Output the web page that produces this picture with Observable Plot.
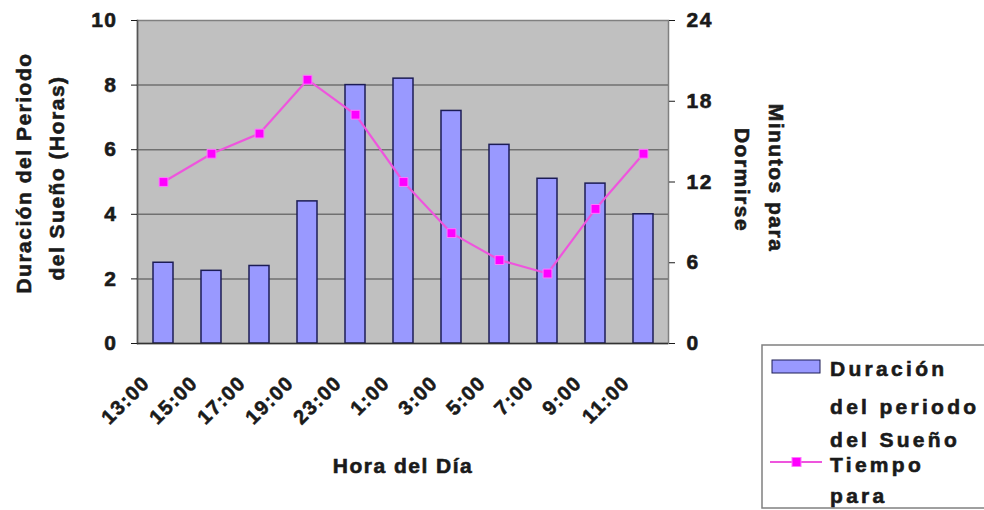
<!DOCTYPE html>
<html><head><meta charset="utf-8">
<script src="https://cdn.jsdelivr.net/npm/d3@7"></script>
<script src="https://cdn.jsdelivr.net/npm/@observablehq/plot@0.6"></script>
<style>
body{margin:0;background:#fff;}
#chart{position:relative;width:984px;height:510px;}
</style></head><body><div id="chart"></div>
<script>
const hours = ["13:00","15:00","17:00","19:00","23:00","1:00","3:00","5:00","7:00","9:00","11:00"];
const duracion = [2.5, 2.25, 2.4, 4.4, 8.0, 8.2, 7.2, 6.15, 5.1, 4.95, 4.0];
const minutos = [12, 14.1, 15.6, 19.6, 17, 12, 8.2, 6.2, 5.2, 10, 14.1];
const leftTicks = [0, 2, 4, 6, 8, 10];
const rightTicks = [0, 6, 12, 18, 24];
const gridValues = [2, 4, 6, 8];
const leftTitle = ["Duración del Periodo", "del Sueño (Horas)"];
const rightTitle = ["Minutos para", "Dormirse"];
const xTitle = "Hora del Día";
const legendLabels = ["Duración", "del periodo", "del Sueño", "Tiempo", "para"];

const data = hours.map((h, i) => ({hour: h, dur: duracion[i], min: minutos[i]}));
const k = 10 / 24;
const FONT = '"Liberation Sans", Arial, Helvetica, sans-serif';
const INK = "#1a1a1a";
const BAR = "#9999ff", BAR_STROKE = "#1c1c55", LINE = "#ee55dd", DOT = "#ff00ff";

const svg = Plot.plot({
  width: 984, height: 510,
  marginLeft: 137, marginRight: 316, marginTop: 20, marginBottom: 167,
  style: {fontFamily: FONT, fontSize: "20px", background: "#fff", color: INK, overflow: "hidden"},
  x: {type: "band", domain: hours, padding: 0, axis: null},
  y: {domain: [0, 10], axis: null},
  marks: [
    Plot.frame({fill: "#c0c0c0", stroke: "#808080", strokeWidth: 1.5}),
    Plot.gridY(gridValues, {stroke: "#707070", strokeOpacity: 1, strokeWidth: 1.5}),
    Plot.barY(data, {x: "hour", y: "dur", fill: BAR, stroke: BAR_STROKE, strokeWidth: 1.5, insetLeft: 14, insetRight: 14}),
    Plot.frame({anchor: "left", stroke: "#555", strokeWidth: 1.5}),
    Plot.ruleY([0], {stroke: "#333", strokeWidth: 1.5}),
    Plot.axisY(leftTicks, {anchor: "left", tickSize: 6, tickPadding: 14, fontSize: 21, label: null}),
    Plot.axisY(rightTicks.map(v => v * k), {anchor: "right", tickSize: 6, tickPadding: 12, tickFormat: d => Math.round(d / k), fontSize: 21, label: null}),
    Plot.line(data, {x: "hour", y: d => d.min * k, stroke: LINE, strokeWidth: 2.2}),
    Plot.dot(data, {x: "hour", y: d => d.min * k, symbol: "square", r: 5, fill: DOT, stroke: "#ff77ff", strokeWidth: 1}),
    Plot.text(hours, {x: d => d, text: d => d, frameAnchor: "bottom", rotate: -45, textAnchor: "end", lineAnchor: "middle", dx: -17, dy: 36, fontSize: 20, ariaLabel: "xticks"}),
    Plot.text([xTitle], {text: d => d, frameAnchor: "bottom", textAnchor: "middle", lineAnchor: "middle", dy: 123, fontSize: 21, ariaLabel: "xtitle"}),
    Plot.text([leftTitle[0]], {text: d => d, frameAnchor: "left", textAnchor: "middle", lineAnchor: "middle", rotate: -90, dx: -113, dy: -9, fontSize: 21, ariaLabel: "ltitle1"}),
    Plot.text([leftTitle[1]], {text: d => d, frameAnchor: "left", textAnchor: "middle", lineAnchor: "middle", rotate: -90, dx: -80, dy: -4, fontSize: 21, ariaLabel: "ltitle2"}),
    Plot.text([rightTitle[0]], {text: d => d, frameAnchor: "right", textAnchor: "middle", lineAnchor: "middle", rotate: 90, dx: 107, dy: -4, fontSize: 21, ariaLabel: "rtitle1"}),
    Plot.text([rightTitle[1]], {text: d => d, frameAnchor: "right", textAnchor: "middle", lineAnchor: "middle", rotate: 90, dx: 73, dy: -2, fontSize: 21, ariaLabel: "rtitle2"})
  ]
});

const s = d3.select(svg);
s.style("letter-spacing", "1.5px");
s.select('g[aria-label="xtitle"]').style("letter-spacing", "3.5px");
s.select('g[aria-label="ltitle1"]').style("letter-spacing", "4.5px");
s.select('g[aria-label="ltitle2"]').style("letter-spacing", "2px");
s.select('g[aria-label="rtitle1"]').style("letter-spacing", "2px");
s.select('g[aria-label="rtitle2"]').style("letter-spacing", "2px");

// legend (drawn beside the plot, partially clipped like the reference)
const lg = s.append("g").attr("font-family", FONT).attr("font-size", 21).attr("text-anchor", "start").style("letter-spacing", "3.3px").attr("fill", INK);
lg.append("rect").attr("x", 762).attr("y", 345).attr("width", 240).attr("height", 163).attr("fill", "#fff").attr("stroke", "#808080").attr("stroke-width", 1.5);
lg.append("rect").attr("x", 772).attr("y", 360).attr("width", 48).attr("height", 13).attr("fill", BAR).attr("stroke", BAR_STROKE).attr("stroke-width", 1);
lg.append("line").attr("x1", 770).attr("x2", 822).attr("y1", 462).attr("y2", 462).attr("stroke", LINE).attr("stroke-width", 2.2);
lg.append("rect").attr("x", 792).attr("y", 457.5).attr("width", 9).attr("height", 9).attr("fill", DOT).attr("stroke", "#ff77ff");
const baselines = [376, 414, 447, 472, 503];
legendLabels.forEach((t, i) => {
  lg.append("text").attr("x", 830).attr("y", baselines[i]).text(t);
});

// heavy text like the reference
s.selectAll("text").attr("font-weight", "bold").attr("stroke", INK).attr("stroke-width", 0.6).attr("fill", INK);

document.getElementById("chart").appendChild(svg);
</script>
</body></html>
